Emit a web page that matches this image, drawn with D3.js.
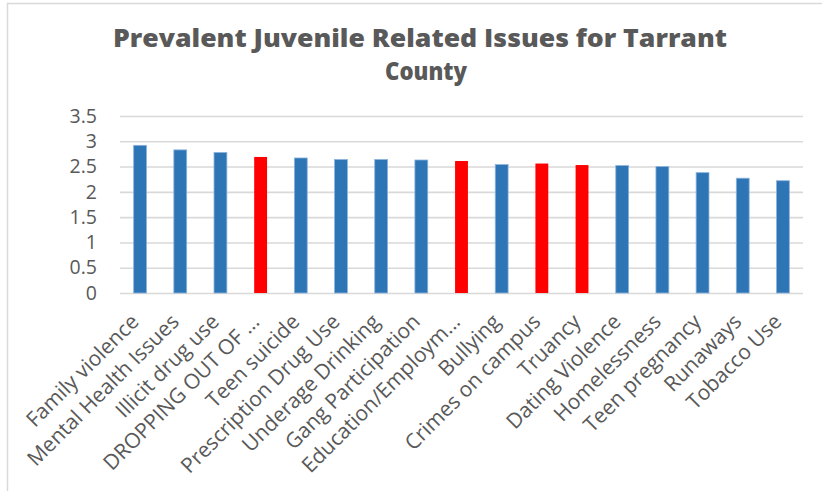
<!DOCTYPE html>
<html>
<head>
<meta charset="utf-8">
<script src="https://cdn.jsdelivr.net/npm/d3@7"></script>
<style>
  html, body { margin: 0; padding: 0; background: #fff; }
  svg { display: block; }
</style>
</head>
<body>
<svg id="chart" width="822" height="491"></svg>
<script>
// Issue categories, in ranked order
const categories = [
  "Family violence", "Mental Health Issues", "Illicit drug use", "DROPPING OUT OF ...",
  "Teen suicide", "Prescription Drug Use", "Underage Drinking", "Gang Participation",
  "Education/Employm...", "Bullying", "Crimes on campus", "Truancy",
  "Dating Violence", "Homelessness", "Teen pregnancy", "Runaways", "Tobacco Use"
];
// Average prevalence score per issue
const scores = [
  2.92, 2.83, 2.78, 2.69, 2.67, 2.64, 2.64, 2.63,
  2.61, 2.54, 2.56, 2.53, 2.52, 2.50, 2.38, 2.27, 2.22
];
// Issues tied to school engagement are highlighted
const highlighted = [
  "DROPPING OUT OF ...", "Education/Employm...", "Crimes on campus", "Truancy"
];
const yTicks = [0, 0.5, 1, 1.5, 2, 2.5, 3, 3.5];
const titleLines = ["Prevalent Juvenile Related Issues for Tarrant", "County"];

const svg = d3.select("#chart");
const textColor = "#595959";
const gridColor = "#d9d9d9";

// Chart frame
svg.append("rect")
  .attr("x", 7.5).attr("y", 3.5)
  .attr("width", 840).attr("height", 520)
  .attr("fill", "#fff")
  .attr("stroke", "#d9d9d9")
  .attr("stroke-width", 1.5);

const plot = { left: 120, right: 803, top: 116, bottom: 293 };

const x = d3.scaleBand()
  .domain(categories)
  .range([plot.left, plot.right])
  .paddingInner(0.68)
  .paddingOuter(0.34);

const y = d3.scaleLinear()
  .domain([0, 3.5])
  .range([plot.bottom, plot.top]);

// Title, two lines
const titleY = [47, 80];
const titleWidth = [614, 82];
svg.append("g")
  .selectAll("text")
  .data(titleLines)
  .join("text")
  .attr("x", (d, i) => i === 0 ? 420 : 426)
  .attr("y", (d, i) => titleY[i])
  .attr("textLength", (d, i) => titleWidth[i])
  .attr("lengthAdjust", "spacingAndGlyphs")
  .attr("font-family", "'Open Sans', Lato, sans-serif")
  .attr("font-weight", 800)
  .attr("font-size", 24)
  .attr("fill", textColor)
  .attr("text-anchor", "middle")
  .text(d => d);

// Gridlines and y labels
const yAxis = d3.axisLeft(y).tickValues(yTicks)
  .tickSize(-(plot.right - plot.left))
  .tickPadding(23)
  .tickFormat(d3.format("~g"));

const gy = svg.append("g")
  .attr("transform", `translate(${plot.left},0)`)
  .call(yAxis);
gy.select(".domain").remove();
gy.selectAll(".tick line")
  .attr("stroke", gridColor)
  .attr("stroke-width", 1.6);
gy.selectAll(".tick text")
  .attr("fill", textColor)
  .attr("font-family", "'Open Sans', sans-serif")
  .attr("font-size", 19.5);

// Bars
svg.append("g")
  .selectAll("rect")
  .data(categories.map((c, i) => ({ c, v: scores[i] })))
  .join("rect")
  .attr("x", d => x(d.c))
  .attr("width", x.bandwidth())
  .attr("y", d => y(d.v))
  .attr("height", d => y(0) - y(d.v))
  .attr("fill", d => highlighted.includes(d.c) ? "#ff0000" : "#2e75b6")
  .attr("stroke", d => highlighted.includes(d.c) ? "none" : "#8db3db")
  .attr("stroke-width", 0.8);

// Category labels, rotated
const xAxis = d3.axisBottom(x).tickSize(0).tickPadding(0);
const gx = svg.append("g")
  .attr("transform", `translate(0,${plot.bottom})`)
  .call(xAxis);
gx.select(".domain").remove();
gx.selectAll(".tick text")
  .attr("fill", textColor)
  .attr("font-family", "'Open Sans', sans-serif")
  .attr("font-size", 21)
  .attr("text-anchor", "end")
  .attr("dy", null)
  .attr("y", 0)
  .attr("transform", "translate(0,30) rotate(-45)");
</script>
</body>
</html>
